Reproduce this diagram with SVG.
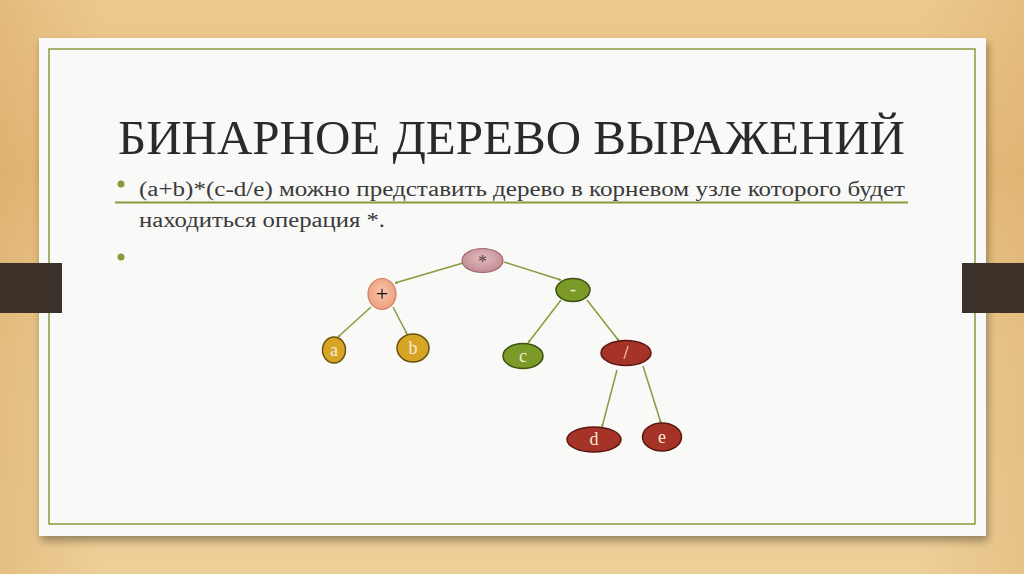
<svg xmlns="http://www.w3.org/2000/svg" width="1024" height="574" viewBox="0 0 1024 574">
<defs>
<linearGradient id="wood" x1="0" y1="0" x2="0" y2="1">
<stop offset="0" stop-color="#ecc98f"/>
<stop offset="0.3" stop-color="#e6bd7e"/>
<stop offset="0.6" stop-color="#eccb92"/>
<stop offset="1" stop-color="#edcf98"/>
</linearGradient>
<linearGradient id="woodH" x1="0" y1="0" x2="1" y2="0">
<stop offset="0" stop-color="#c98f45" stop-opacity="0.25"/>
<stop offset="0.1" stop-color="#c98f45" stop-opacity="0"/>
<stop offset="0.9" stop-color="#c98f45" stop-opacity="0"/>
<stop offset="1" stop-color="#c98f45" stop-opacity="0.2"/>
</linearGradient>
<filter id="shadow" x="-5%" y="-5%" width="110%" height="115%">
<feGaussianBlur in="SourceAlpha" stdDeviation="4"/>
<feOffset dx="2" dy="5" result="b"/>
<feComponentTransfer><feFuncA type="linear" slope="0.35"/></feComponentTransfer>
<feMerge><feMergeNode/><feMergeNode in="SourceGraphic"/></feMerge>
</filter>
<radialGradient id="gStar" cx="0.5" cy="0.4" r="0.6">
<stop offset="0" stop-color="#e2bcc0"/>
<stop offset="1" stop-color="#c08a90"/>
</radialGradient>
<radialGradient id="gPlus" cx="0.5" cy="0.45" r="0.6">
<stop offset="0" stop-color="#fac8b0"/>
<stop offset="1" stop-color="#eb9a78"/>
</radialGradient>
<marker id="arr" viewBox="0 0 6 6" refX="5" refY="3" markerWidth="3" markerHeight="3" orient="auto" markerUnits="userSpaceOnUse">
<path d="M0,0 L6,3 L0,6 z" fill="#8a9a3a"/>
</marker>
<style>
.edge{stroke:#8a9a3a;stroke-width:1.5;fill:none;marker-end:url(#arr)}
.lbl{font-family:"Liberation Serif","DejaVu Serif",serif;font-size:18px;text-anchor:middle}
.light{fill:#f6ecd8}
.body{font-family:"Liberation Serif","DejaVu Serif",serif;font-size:20px;fill:#3a3a3a}
.gold{fill:#d6a526;stroke:#6b5210;stroke-width:1.5}
.green{fill:#7b9a28;stroke:#3f5010;stroke-width:1.5}
.red{fill:#a53327;stroke:#5a1810;stroke-width:1.5}
</style>
</defs>
<rect x="0" y="0" width="1024" height="574" fill="url(#wood)"/>
<rect x="0" y="0" width="1024" height="574" fill="url(#woodH)"/>
<g id="paper">
<rect x="39" y="38" width="947" height="498" fill="#f9f9f8" filter="url(#shadow)"/>
<rect x="49" y="49" width="926" height="475" fill="none" stroke="#8a9a3c" stroke-width="1.5"/>
</g>
<rect x="0" y="263" width="62" height="50" fill="#3b3129"/>
<rect x="962" y="263" width="62" height="50" fill="#3b3129"/>
<g id="title">
<text x="118" y="154" font-family="Liberation Serif,DejaVu Serif,serif" font-size="48" fill="#2a2a2a" textLength="787" lengthAdjust="spacingAndGlyphs">БИНАРНОЕ ДЕРЕВО ВЫРАЖЕНИЙ</text>
</g>
<g id="bullets">
<circle cx="121" cy="184" r="3.5" fill="#8a9a3a"/>
<text class="body" x="139" y="196" textLength="766" lengthAdjust="spacingAndGlyphs">(a+b)*(c-d/e) можно представить дерево в корневом узле которого будет</text>
<line x1="115" y1="202.5" x2="908" y2="202.5" stroke="#8a9a3a" stroke-width="2"/>
<text class="body" x="139" y="227" textLength="246" lengthAdjust="spacingAndGlyphs">находиться операция *.</text>
<circle cx="121" cy="257" r="3.5" fill="#8a9a3a"/>
</g>
<g id="connectors">
<line class="edge" x1="463" y1="263" x2="395" y2="283"/>
<line class="edge" x1="504" y1="262" x2="561" y2="280"/>
<line class="edge" x1="371" y1="307" x2="338" y2="337"/>
<line class="edge" x1="393" y1="307" x2="407" y2="334"/>
<line class="edge" x1="561" y1="300" x2="528" y2="343"/>
<line class="edge" x1="587" y1="300" x2="619" y2="341"/>
<line class="edge" x1="617" y1="370" x2="602" y2="427"/>
<line class="edge" x1="643" y1="366" x2="661" y2="423"/>
</g>
<g id="node-mul">
<ellipse cx="482.5" cy="260.5" rx="20.5" ry="12" fill="url(#gStar)" stroke="#a0646a" stroke-width="1.2"/>
<text class="lbl" x="482.5" y="268" fill="#5a3a3e">*</text>
</g>
<g id="node-plus">
<ellipse cx="382" cy="294" rx="14" ry="15.5" fill="url(#gPlus)" stroke="#cf8262" stroke-width="1.2"/>
<text class="lbl" x="382" y="301" fill="#111111" style="font-size:22px">+</text>
</g>
<g id="node-minus">
<ellipse class="green" cx="573" cy="290" rx="17" ry="11.5"/>
<text class="lbl light" x="573" y="295">-</text>
</g>
<g id="node-a">
<ellipse class="gold" cx="334" cy="350" rx="11.5" ry="13"/>
<text class="lbl light" x="334" y="356">a</text>
</g>
<g id="node-b">
<ellipse class="gold" cx="413" cy="348" rx="16" ry="14"/>
<text class="lbl light" x="413" y="354">b</text>
</g>
<g id="node-c">
<ellipse class="green" cx="523" cy="356" rx="20" ry="12.5"/>
<text class="lbl light" x="523" y="362">c</text>
</g>
<g id="node-div">
<ellipse class="red" cx="626" cy="353" rx="25" ry="12.5"/>
<text class="lbl light" x="626" y="359">/</text>
</g>
<g id="node-d">
<ellipse class="red" cx="594" cy="439.5" rx="27" ry="12.5"/>
<text class="lbl light" x="594" y="445">d</text>
</g>
<g id="node-e">
<ellipse class="red" cx="662" cy="437" rx="19.5" ry="14"/>
<text class="lbl light" x="662" y="443">e</text>
</g>
</svg>
